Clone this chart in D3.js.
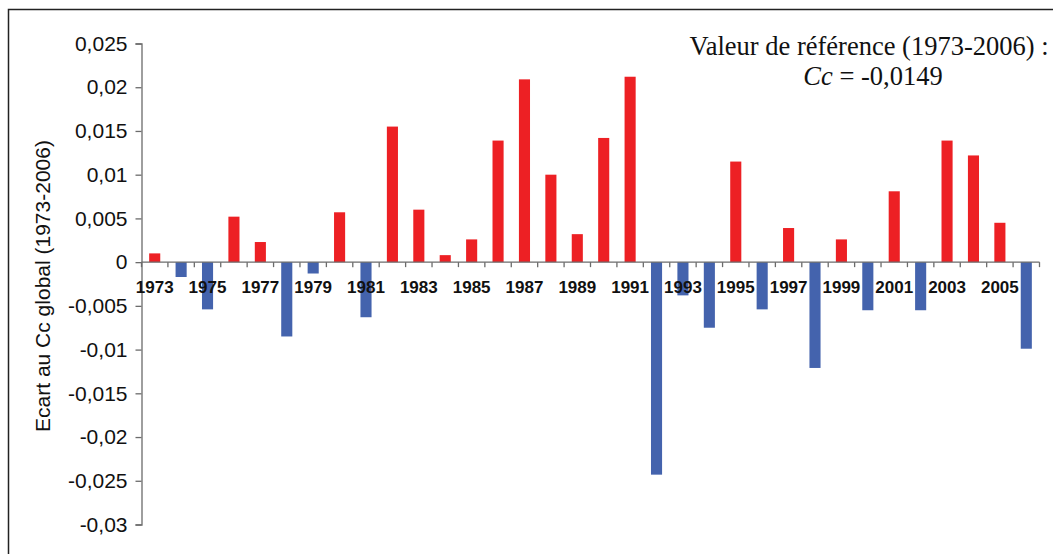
<!DOCTYPE html>
<html>
<head>
<meta charset="utf-8">
<script src="https://cdn.jsdelivr.net/npm/d3@7"></script>
<style>
  html, body { margin: 0; padding: 0; background: #fff; }
  svg { display: block; }
</style>
</head>
<body>
<svg id="chart" width="1053" height="554"></svg>
<script>
// Yearly deviation from the global Cc (reference period 1973-2006)
const years = [1973, 1974, 1975, 1976, 1977, 1978, 1979, 1980, 1981, 1982,
               1983, 1984, 1985, 1986, 1987, 1988, 1989, 1990, 1991, 1992,
               1993, 1994, 1995, 1996, 1997, 1998, 1999, 2000, 2001, 2002,
               2003, 2004, 2005, 2006];
const deviations = [0.0010, -0.0017, -0.0054, 0.0052, 0.0023, -0.0085, -0.0013, 0.0057, -0.0063, 0.0155,
                    0.0060, 0.0008, 0.0026, 0.0139, 0.0209, 0.0100, 0.0032, 0.0142, 0.0212, -0.0243,
                    -0.0038, -0.0075, 0.0115, -0.0054, 0.0039, -0.0121, 0.0026, -0.0055, 0.0081, -0.0055,
                    0.0139, 0.0122, 0.0045, -0.0099];
const yTicks = [0.025, 0.02, 0.015, 0.01, 0.005, 0, -0.005, -0.01, -0.015, -0.02, -0.025, -0.03];
const yearLabels = years.filter(y => y % 2 === 1);
const yTitle = "Ecart au Cc global (1973-2006)";
const noteLine1 = "Valeur de référence (1973-2006) :";
const noteSymbol = "Cc";
const noteValue = " = -0,0149";

const svg = d3.select("#chart");
const plotLeft = 141.5, plotRight = 1039.5, plotTop = 43.5, plotBottom = 524.5;
const axisColor = "#6b6b6b";
const fmt = v => String(+v.toFixed(3)).replace(".", ",");

// Outer frame (extends past the right and bottom edges)
svg.append("rect")
  .attr("x", 8.5).attr("y", 9.5)
  .attr("width", 1100).attr("height", 600)
  .attr("fill", "none").attr("stroke", "#222").attr("stroke-width", 1.5);

const x = d3.scaleBand()
  .domain(years)
  .range([plotLeft, plotRight])
  .paddingInner(0.58)
  .paddingOuter(0.29);

const y = d3.scaleLinear()
  .domain([-0.03, 0.025])
  .range([plotBottom, plotTop]);

// Bars: red above the reference, blue below
svg.append("g").selectAll("rect")
  .data(years.map((yr, i) => ({ yr, v: deviations[i] })))
  .join("rect")
  .attr("x", d => x(d.yr))
  .attr("width", x.bandwidth())
  .attr("y", d => y(Math.max(0, d.v)))
  .attr("height", d => Math.abs(y(d.v) - y(0)))
  .attr("fill", d => d.v >= 0 ? "#ed2024" : "#4463ad");

// Y axis
const yAxis = svg.append("g")
  .attr("transform", `translate(${plotLeft},0)`)
  .call(d3.axisLeft(y).tickValues(yTicks).tickFormat(fmt).tickSize(6).tickPadding(8));
yAxis.select(".domain").attr("stroke", axisColor).attr("stroke-width", 1.3);
yAxis.selectAll(".tick line").attr("stroke", axisColor).attr("stroke-width", 1.3);
yAxis.selectAll(".tick text")
  .attr("font-family", "Liberation Sans, Arial, sans-serif")
  .attr("font-size", 21)
  .attr("fill", "#111");

// Zero line with category boundary ticks
const step = x.step();
const boundaries = d3.range(years.length + 1).map(i => plotLeft + i * step);
const xg = svg.append("g");
xg.append("line")
  .attr("x1", plotLeft).attr("x2", plotRight)
  .attr("y1", y(0)).attr("y2", y(0))
  .attr("stroke", axisColor).attr("stroke-width", 1.3);
xg.selectAll("line.tick")
  .data(boundaries)
  .join("line")
  .attr("class", "tick")
  .attr("x1", d => d).attr("x2", d => d)
  .attr("y1", y(0)).attr("y2", y(0) + 5)
  .attr("stroke", axisColor).attr("stroke-width", 1.3);

// Year labels (every other year), drawn over the bars
svg.append("g").selectAll("text")
  .data(yearLabels)
  .join("text")
  .attr("x", d => x(d) + x.bandwidth() / 2)
  .attr("y", y(0) + 31)
  .attr("text-anchor", "middle")
  .attr("font-family", "Liberation Sans, Arial, sans-serif")
  .attr("font-weight", "bold")
  .attr("font-size", 17)
  .attr("fill", "#111")
  .text(d => d);

// Y axis title
svg.append("text")
  .attr("transform", "translate(50,286) rotate(-90)")
  .attr("text-anchor", "middle")
  .attr("font-family", "Liberation Sans, Arial, sans-serif")
  .attr("font-size", 21)
  .attr("fill", "#111")
  .text(yTitle);

// Reference value note
const note = svg.append("g")
  .attr("font-family", "Liberation Serif, Times New Roman, serif")
  .attr("font-size", 26.5)
  .attr("fill", "#111");
note.append("text")
  .attr("x", 869).attr("y", 55)
  .attr("text-anchor", "middle")
  .text(noteLine1);
const l2 = note.append("text")
  .attr("x", 873).attr("y", 85)
  .attr("text-anchor", "middle");
l2.append("tspan").attr("font-style", "italic").text(noteSymbol);
l2.append("tspan").text(noteValue);
</script>
</body>
</html>
